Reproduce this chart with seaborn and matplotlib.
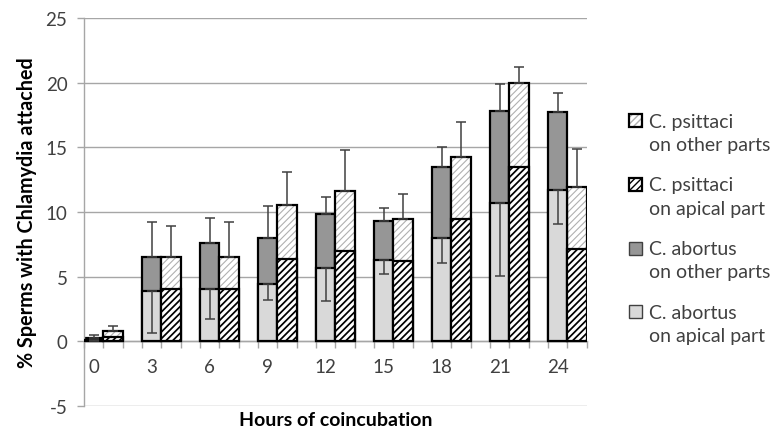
import matplotlib
matplotlib.use('Agg')
import matplotlib.pyplot as plt
from matplotlib.patches import Patch, Rectangle
from matplotlib.legend_handler import HandlerBase
import seaborn as sns

sns.set_theme(style='whitegrid')
plt.rcParams['font.family'] = ['Lato', 'DejaVu Sans']
plt.rcParams['axes.unicode_minus'] = False

hours = [0, 3, 6, 9, 12, 15, 18, 21, 24]

# C. abortus: apical part and total (apical + other parts)
abortus_apical = [0.1, 3.85, 4.05, 4.45, 5.7, 6.3, 7.95, 10.7, 11.7]
abortus_total = [0.25, 6.5, 7.6, 8.0, 9.85, 9.3, 13.45, 17.8, 17.75]
abortus_apical_err = [0.1, 3.2, 2.3, 1.3, 2.6, 1.1, 1.9, 5.65, 2.6]
abortus_total_err = [0.25, 2.7, 1.9, 2.45, 1.3, 1.0, 1.6, 2.1, 1.45]

# C. psittaci
psittaci_apical = [0.3, 4.0, 4.0, 6.35, 6.95, 6.2, 9.45, 13.45, 7.15]
psittaci_total = [0.8, 6.5, 6.55, 10.55, 11.6, 9.45, 14.25, 20.0, 11.95]
psittaci_total_err = [0.35, 2.4, 2.7, 2.5, 3.2, 1.9, 2.7, 1.2, 2.9]

legend_labels = ['C. psittaci\non other parts', 'C. psittaci\non apical part',
                 'C. abortus\non other parts', 'C. abortus\non apical part']

ab_x = [3 * i for i in range(len(hours))]
ps_x = [3 * i + 1 for i in range(len(hours))]
zeros = [0] * len(hours)


class TopBoxHandler(HandlerBase):
    # legend box drawn next to the first line of a two-line label
    def create_artists(self, legend, orig_handle, xdescent, ydescent,
                       width, height, fontsize, trans):
        out = []
        for p in orig_handle:
            r = Rectangle((-xdescent, -ydescent + 0.62 * fontsize), width, height)
            r.update_from(p)
            r.set_transform(trans)
            out.append(r)
        return out


fig, ax = plt.subplots(figsize=(7.72, 4.31), dpi=100)
fig.subplots_adjust(left=0.109, right=0.760, top=0.956, bottom=0.056)
ax.set_axisbelow(True)

edge_lw = 1.6
err_kw = dict(fmt='none', ecolor='#404040', elinewidth=1.1, capsize=3.4, capthick=1.1, zorder=5)
light_hatch = dict(edgecolor='#b0b0b0', hatch='/////', linewidth=0)
dense_hatch = dict(edgecolor='black', hatch='/////', linewidth=0)

# C. abortus bars (other parts drawn as the total, apical part on top of it)
ax.bar(ab_x, abortus_total, width=1, color='#969696', edgecolor='black', linewidth=edge_lw, zorder=2)
ax.bar(ab_x, abortus_apical, width=1, color='#d9d9d9', edgecolor='black', linewidth=edge_lw, zorder=3)
ax.errorbar(ab_x, abortus_total, yerr=[zeros, abortus_total_err], **err_kw)
ax.errorbar(ab_x, abortus_apical, yerr=[abortus_apical_err, zeros], **err_kw)

# C. psittaci bars, hatched
with plt.rc_context({'hatch.linewidth': 0.8}):
    ax.bar(ps_x, psittaci_total, width=1, color='white', zorder=2, **light_hatch)
ax.bar(ps_x, psittaci_total, width=1, fill=False, edgecolor='black', linewidth=edge_lw, zorder=2)
with plt.rc_context({'hatch.linewidth': 1.25}):
    ax.bar(ps_x, psittaci_apical, width=1, color='white', zorder=3, **dense_hatch)
ax.bar(ps_x, psittaci_apical, width=1, fill=False, edgecolor='black', linewidth=edge_lw, zorder=3)
ax.errorbar(ps_x, psittaci_total, yerr=[zeros, psittaci_total_err], **err_kw)

# axes
ax.set_xlim(-0.5, 25.5)
ax.set_ylim(-5, 25)
ax.set_yticks(range(-5, 26, 5))
ax.set_xticks(ab_x)
ax.set_xticklabels([str(h) for h in hours])
ax.set_xticks([i - 0.5 for i in range(27)], minor=True)
ax.grid(axis='x', visible=False)
ax.grid(axis='y', color='#a6a6a6', linewidth=1)

for s in ['top', 'right']:
    ax.spines[s].set_visible(False)
ax.spines['left'].set_color('#a6a6a6')
ax.spines['bottom'].set_color('#a6a6a6')
ax.spines['bottom'].set_position(('data', 0))
ax.spines['left'].set_linewidth(1)
ax.spines['bottom'].set_linewidth(1)

ax.tick_params(axis='x', which='major', length=0, pad=12, labelsize=13.5, labelcolor='#404040')
ax.tick_params(axis='x', which='minor', length=5, width=1, color='#a6a6a6', direction='out', bottom=True)
ax.tick_params(axis='y', length=5, width=1, color='#a6a6a6', left=True, pad=7, labelsize=13.5, labelcolor='#404040')

ax.set_ylabel('% Sperms with Chlamydia attached', fontsize=14.2, fontweight='bold', color='black', labelpad=6)
ax.set_xlabel('Hours of coincubation', fontsize=14, fontweight='bold', color='black')
ax.xaxis.set_label_coords(0.5, -0.012)

# legend
with plt.rc_context({'hatch.linewidth': 0.8}):
    h1 = Patch(facecolor='white', **light_hatch)
with plt.rc_context({'hatch.linewidth': 1.25}):
    h2 = Patch(facecolor='white', **dense_hatch)
outline = Patch(fill=False, edgecolor='black', linewidth=1.6)
h3 = Patch(facecolor='#969696', edgecolor='#404040', linewidth=1)
h4 = Patch(facecolor='#d9d9d9', edgecolor='#404040', linewidth=1)
leg = fig.legend([(h1, outline), (h2, outline), (h3,), (h4,)], legend_labels,
                 handler_map={tuple: TopBoxHandler()},
                 loc='upper left', bbox_to_anchor=(0.792, 0.777), frameon=False,
                 fontsize=14, labelspacing=1.2, handlelength=0.65, handleheight=0.65,
                 handletextpad=0.4, labelcolor='#404040')
for t in leg.get_texts():
    t.set_linespacing(1.45)

plt.savefig('out.png', dpi=100)
